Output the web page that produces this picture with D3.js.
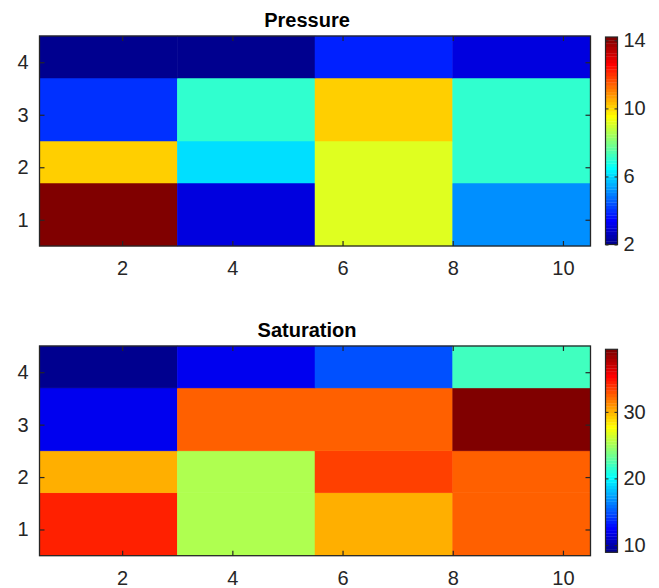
<html>
<head>
<meta charset="utf-8">
<script src="https://d3js.org/d3.v7.min.js"></script>
<style>
    body { margin: 0; background: #fff; }
    text { font-family: "Liberation Sans", Helvetica, Arial, sans-serif; fill: #262626; }
    .title { font-weight: bold; fill: #000; }
</style>
</head>
<body>
<div id="chart"></div>
<script>
    // cell edges (same grid for both panels)
    var xEdges = [0.5, 3, 5.5, 8, 10.5];
    var yEdges = [0.5, 1.7, 2.5, 3.7, 4.5];

    // rows go bottom (y=1) to top (y=4), columns left to right
    var pressure = [
        [14.2, 3.05, 9.15, 5.14],
        [10.1, 6.1, 9.15, 7.05],
        [4.0, 7.05, 10.1, 7.05],
        [2.0, 2.0, 3.81, 3.05]
    ];
    var saturation = [
        [34.4, 25.3, 30.1, 32.5],
        [30.1, 25.3, 33.4, 32.5],
        [12.0, 32.5, 32.5, 39.4],
        [8.9, 12.0, 14.86, 22.0]
    ];

    var xTicks = [2, 4, 6, 8, 10];
    var yTicks = [1, 2, 3, 4];
    var pressureTicks = [2, 6, 10, 14];
    var saturationTicks = [10, 20, 30];

    var fontSize = "20px";

    // matlab jet(64)
    function jet64() {
        var n = 64, m = 16, u = [];
        for (var i = 1; i <= m; i++) u.push(i / m);
        for (var i = 0; i < m - 1; i++) u.push(1);
        for (var i = m; i >= 1; i--) u.push(i / m);
        var J = d3.range(n).map(function () { return [0, 0, 0]; });
        for (var k = 0; k < u.length; k++) {
            var g = 9 + k, r = g + m, b = g - m;
            if (r <= n) J[r - 1][0] = u[k];
            if (g <= n) J[g - 1][1] = u[k];
            if (b >= 1) J[b - 1][2] = u[k];
        }
        return J.map(function (c) {
            return d3.rgb(c[0] * 255, c[1] * 255, c[2] * 255).formatHex();
        });
    }
    var jet = jet64();

    var svg = d3.select("#chart").append("svg")
        .attr("width", 659)
        .attr("height", 588);

    function styleText(sel) {
        sel.style("font-size", fontSize)
            .style("font-family", "'Liberation Sans', Helvetica, Arial, sans-serif")
            .attr("fill", "#262626");
    }

    function drawPanel(data, title, cbTicks, top, bottom, cbTop, cbBottom, titleY) {
        var left = 39.5, right = 590.5;
        var xs = d3.scaleLinear().domain([0.5, 10.5]).range([left, right]);
        var ys = d3.scaleLinear().domain([0.5, 4.5]).range([bottom, top]);

        var flat = d3.merge(data);
        var ext = d3.extent(flat);
        function colorOf(v) {
            var idx = Math.floor((v - ext[0]) / (ext[1] - ext[0]) * 64);
            idx = Math.max(0, Math.min(63, idx));
            return jet[idx];
        }

        var cells = [];
        data.forEach(function (row, r) {
            row.forEach(function (v, c) {
                cells.push({ r: r, c: c, v: v });
            });
        });

        var g = svg.append("g");
        g.selectAll("rect.cell")
            .data(cells)
            .enter()
            .append("rect")
            .attr("class", "cell")
            .attr("x", function (d) { return xs(xEdges[d.c]); })
            .attr("y", function (d) { return ys(yEdges[d.r + 1]); })
            .attr("width", function (d) { return xs(xEdges[d.c + 1]) - xs(xEdges[d.c]); })
            .attr("height", function (d) { return ys(yEdges[d.r]) - ys(yEdges[d.r + 1]); })
            .attr("fill", function (d) { return colorOf(d.v); })
            .attr("stroke", function (d) { return colorOf(d.v); })
            .attr("stroke-width", 0.5);

        // axes, ticks pointing inward
        g.append("g")
            .attr("transform", "translate(0," + bottom + ")")
            .call(d3.axisBottom(xs).tickValues(xTicks).tickSizeInner(-5).tickSizeOuter(0).tickPadding(15).tickFormat(d3.format("d")));
        g.append("g")
            .attr("transform", "translate(0," + top + ")")
            .call(d3.axisTop(xs).tickValues(xTicks).tickSizeInner(-5).tickSizeOuter(0).tickFormat(""));
        g.append("g")
            .attr("transform", "translate(" + left + ",0)")
            .call(d3.axisLeft(ys).tickValues(yTicks).tickSizeInner(-5).tickSizeOuter(0).tickPadding(11).tickFormat(d3.format("d")));
        g.append("g")
            .attr("transform", "translate(" + right + ",0)")
            .call(d3.axisRight(ys).tickValues(yTicks).tickSizeInner(-5).tickSizeOuter(0).tickFormat(""));

        g.selectAll(".domain").remove();
        g.selectAll(".tick line").attr("stroke", "#262626").attr("stroke-width", 1.2);
        styleText(g.selectAll(".tick text"));

        g.append("rect")
            .attr("x", left).attr("y", top)
            .attr("width", right - left).attr("height", bottom - top)
            .attr("fill", "none")
            .attr("stroke", "#262626")
            .attr("stroke-width", 1.3);

        g.append("text")
            .attr("class", "title")
            .attr("x", 307)
            .attr("y", titleY)
            .attr("text-anchor", "middle")
            .style("font-size", "20px")
            .text(title);

        // colorbar
        var cbLeft = 605.5, cbRight = 617.5;
        var cs = d3.scaleLinear().domain(ext).range([cbBottom, cbTop]);
        var levels = d3.range(64);
        var step = (ext[1] - ext[0]) / 64;
        g.selectAll("rect.cb")
            .data(levels)
            .enter()
            .append("rect")
            .attr("class", "cb")
            .attr("x", cbLeft)
            .attr("width", cbRight - cbLeft)
            .attr("y", function (d) { return cs(ext[0] + (d + 1) * step); })
            .attr("height", function (d) { return cs(ext[0] + d * step) - cs(ext[0] + (d + 1) * step) + 0.3; })
            .attr("fill", function (d) { return jet[d]; });

        var cbAxis = g.append("g")
            .attr("transform", "translate(" + cbRight + ",0)")
            .call(d3.axisRight(cs).tickValues(cbTicks).tickSizeInner(-3).tickSizeOuter(0).tickPadding(6).tickFormat(d3.format("d")));
        cbAxis.select(".domain").remove();
        cbAxis.selectAll(".tick line").attr("stroke", "#262626");
        styleText(cbAxis.selectAll(".tick text"));
        g.append("g")
            .attr("transform", "translate(" + cbLeft + ",0)")
            .call(d3.axisLeft(cs).tickValues(cbTicks).tickSizeInner(-3).tickSizeOuter(0).tickFormat(""))
            .call(function (s) { s.select(".domain").remove(); })
            .selectAll(".tick line").attr("stroke", "#262626");

        g.append("rect")
            .attr("x", cbLeft).attr("y", cbTop)
            .attr("width", cbRight - cbLeft).attr("height", cbBottom - cbTop)
            .attr("fill", "none")
            .attr("stroke", "#262626")
            .attr("stroke-width", 1.2);
    }

    drawPanel(pressure, "Pressure", pressureTicks, 36, 246, 37, 244.5, 27);
    drawPanel(saturation, "Saturation", saturationTicks, 346, 555.7, 349.3, 552.3, 337);
</script>
</body>
</html>
